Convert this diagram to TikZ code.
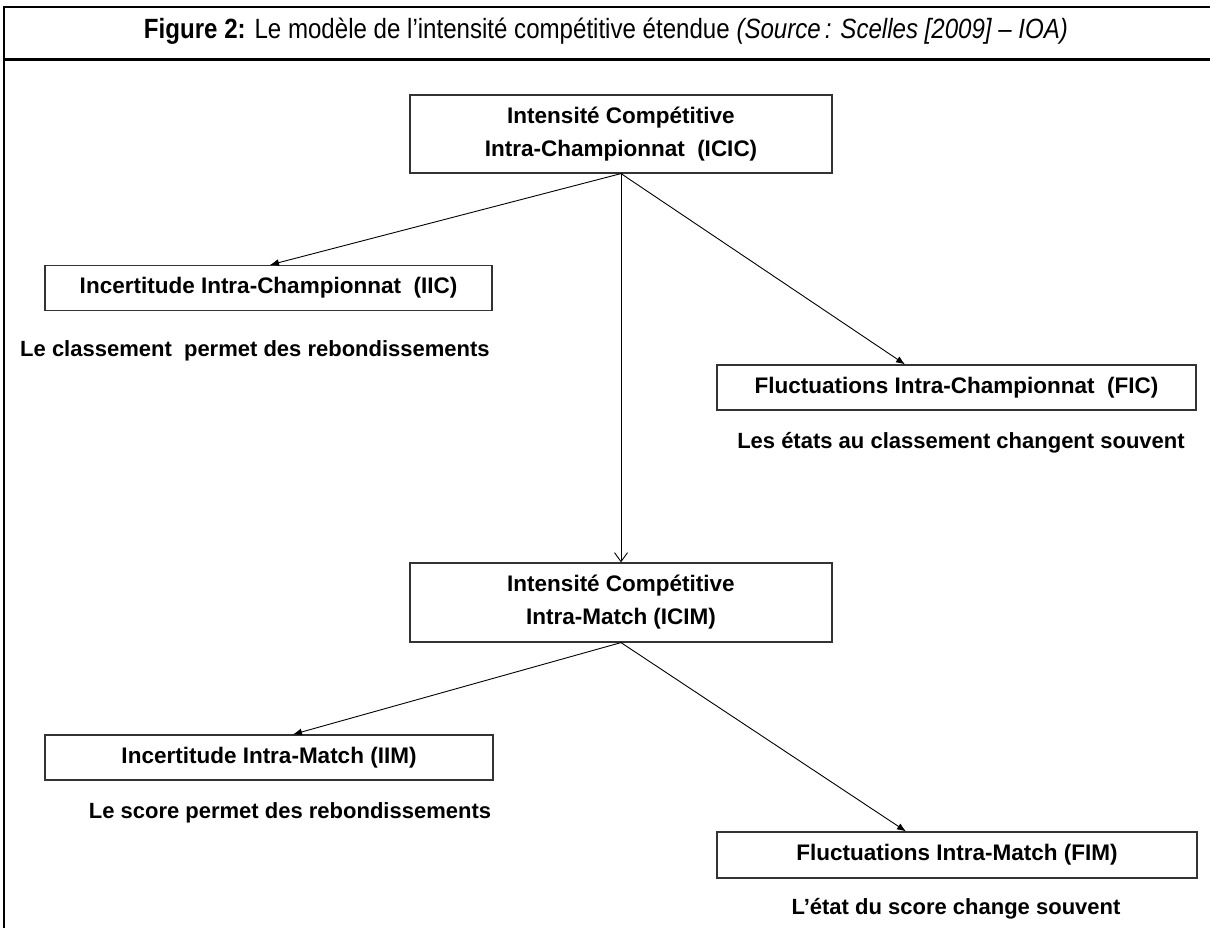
\documentclass[tikz,border=0pt]{standalone}
\usepackage{fontspec}
\setmainfont{Liberation Sans}
\usetikzlibrary{arrows.meta}
\begin{document}
\begin{tikzpicture}[x=1pt,y=-1pt,
  box/.style={draw=black!80, line width=1.2pt, rectangle, inner sep=0pt, font=\fontsize{22.5}{33}\selectfont\bfseries, align=center},
  lbl/.style={inner sep=0pt, font=\fontsize{22}{26}\selectfont\bfseries},
  conn/.style={line width=0.9pt, -{Latex[length=9pt,width=7pt]}},
  vconn/.style={line width=0.9pt, -{Straight Barb[length=9pt,width=13pt,line width=0.9pt]}}]
\useasboundingbox (0,0) rectangle (1210,928);
\fill[white] (0,0) rectangle (1210,928);
% frame
\draw[line width=2pt] (1212,7) -- (4,7) -- (4,930);
\draw[line width=3pt] (4,60) -- (1212,60);
\node[inner sep=0pt] (title) at (606,31) {\resizebox{924pt}{20.5pt}{\fontsize{27}{30}\selectfont\textbf{Figure 2:} Le modèle de l’intensité compétitive étendue \textit{(Source\,: Scelles [2009] – IOA)}}};
% boxes
\node[box, minimum width=422pt, minimum height=78pt] (icic) at (621,134) {Intensité Compétitive\\Intra-Championnat\ \ (ICIC)};
\node[box, minimum width=447pt, minimum height=45pt] (iic) at (268.5,288) {Incertitude Intra-Championnat\ \ (IIC)};
\node[lbl] (l1) at (255,351) {Le classement\ \ permet des rebondissements};
\node[box, minimum width=479pt, minimum height=45pt] (fic) at (956.5,387.5) {Fluctuations Intra-Championnat\ \ (FIC)};
\node[lbl] (l2) at (961,443) {Les états au classement changent souvent};
\node[box, minimum width=422pt, minimum height=79pt] (icim) at (621,602.5) {Intensité Compétitive\\Intra-Match (ICIM)};
\node[box, minimum width=448pt, minimum height=45pt] (iim) at (269,757.5) {Incertitude Intra-Match (IIM)};
\node[lbl] (l3) at (290,813) {Le score permet des rebondissements};
\node[box, minimum width=480pt, minimum height=46pt] (fim) at (957,855) {Fluctuations Intra-Match (FIM)};
\node[lbl] (l4) at (956,909) {L’état du score change souvent};
% connectors
\coordinate (o1) at (icic.south);
\coordinate (t1) at (iic.north -| 270,0);
\coordinate (t2) at (fic.north -| 905,0);
\coordinate (t3) at (icim.north);
\coordinate (o2) at (icim.south);
\coordinate (t4) at (iim.north -| 293,0);
\coordinate (t5) at (fim.north -| 906,0);
\draw[conn] (o1) -- (t1);
\draw[conn] (o1) -- (t2);
\draw[vconn] (o1) -- (t3);
\draw[conn] (o2) -- (t4);
\draw[conn] (o2) -- (t5);
\end{tikzpicture}
\end{document}
